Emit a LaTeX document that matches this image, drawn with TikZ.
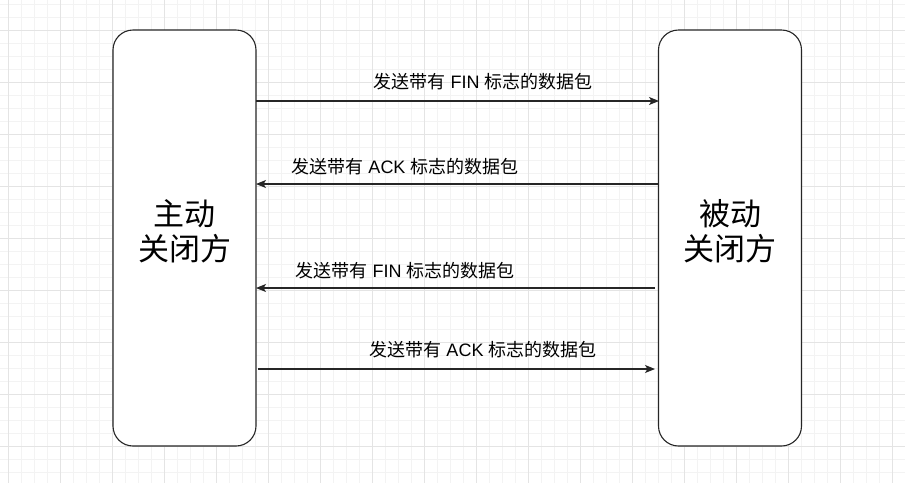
\documentclass[tikz,border=0pt]{standalone}
\usepackage{fontspec}
\setmainfont{Liberation Sans}
\newfontfamily\cjk{Noto Sans CJK SC}
\usetikzlibrary{arrows.meta}
\begin{document}
\begin{tikzpicture}[x=1pt,y=-1pt,
  actor/.style={draw=black!85,line width=1.1pt,rounded corners=20pt,fill=white,minimum width=143pt,minimum height=416pt,inner sep=0pt},
  actortext/.style={align=center,inner sep=0pt,font=\cjk\fontsize{31}{35}\selectfont},
  msg/.style={draw=black!85,line width=1.1pt,-{Stealth[length=10pt,width=8pt,inset=2.5pt]}},
  lbl/.style={font=\fontsize{18}{20}\selectfont,inner sep=0pt}]
\useasboundingbox (0,0) rectangle (905,483);
\fill[white] (0,0) rectangle (905,483);
\begin{scope}
\clip (0,0) rectangle (905,483);
\foreach \x in {-5,8,...,905} \draw[color={rgb,255:red,243;green,243;blue,243},line width=0.8pt] (\x,0) -- (\x,483);
\foreach \y in {4,17,...,483} \draw[color={rgb,255:red,243;green,243;blue,243},line width=0.8pt] (0,\y) -- (905,\y);
\foreach \x in {8,60,...,905} \draw[color={rgb,255:red,228;green,228;blue,228},line width=0.8pt] (\x,0) -- (\x,483);
\foreach \y in {30,82,...,483} \draw[color={rgb,255:red,228;green,228;blue,228},line width=0.8pt] (0,\y) -- (905,\y);
\end{scope}
\node[actor] (A) at (184.5,238) {};
\node[actor] (B) at (730,238) {};
\node[actortext] (At) at (184.5,231) {主动\\关闭方};
\node[actortext] (Bt) at (730,231) {被动\\关闭方};
\coordinate (a1) at (256,101); \coordinate (b1) at (659,101);
\coordinate (a2) at (256,184); \coordinate (b2) at (659,184);
\coordinate (a3) at (256,288); \coordinate (b3) at (655,288);
\coordinate (a4) at (258,369); \coordinate (b4) at (655,369);
\draw[msg] (a1) -- (b1);
\draw[msg] (b2) -- (a2);
\draw[msg] (b3) -- (a3);
\draw[msg] (a4) -- (b4);
\node[lbl] (l1) at (483,82) {{\cjk 发送带有} FIN {\cjk 标志的数据包}};
\node[lbl] (l2) at (405,167) {{\cjk 发送带有} ACK {\cjk 标志的数据包}};
\node[lbl] (l3) at (405,271) {{\cjk 发送带有} FIN {\cjk 标志的数据包}};
\node[lbl] (l4) at (483,350) {{\cjk 发送带有} ACK {\cjk 标志的数据包}};
\end{tikzpicture}
\end{document}
